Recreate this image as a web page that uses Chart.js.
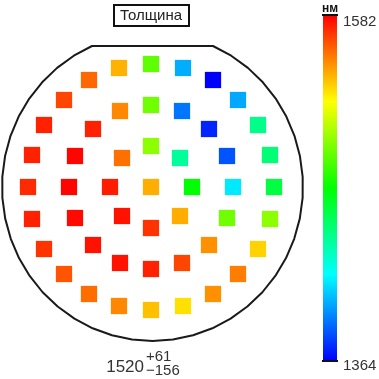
<!DOCTYPE html>
<html><head><meta charset="utf-8">
<style>html,body{margin:0;padding:0;background:#fff}#wrap{width:379px;height:379px;position:relative}canvas{display:block}</style>
<script src="https://cdn.jsdelivr.net/npm/chart.js@4/dist/chart.umd.min.js"></script>
</head><body><div id="wrap"><canvas id="c" width="379" height="379"></canvas></div>
<script>
// ---- data ----
const chartTitle = 'Толщина';
const unitLabel = 'нм';
const colorbarTicks = [1364, 1582];   // min, max of colour scale
const meanValue = 1520;
const plusDev = 61;
const minusDev = 156;

// measurement site positions (wafer coordinates, mm)
const siteX = [0,
  41, 29, 0, -29, -41, -29, 0, 29,
  82, 76, 58, 31, 0, -31, -58, -76, -82, -76, -58, -31, 0, 31, 58, 76,
  123, 119, 107, 87, 62, 32, 0, -32, -62, -87, -107, -119, -123, -119, -107, -87, -62, -32, 0, 32, 62, 87, 107, 119];
const siteY = [0,
  0, 29, 41, 29, 0, -29, -41, -29,
  0, 31, 58, 76, 82, 76, 58, 31, 0, -31, -58, -76, -82, -76, -58, -31,
  0, 32, 62, 87, 107, 119, 123, 119, 107, 87, 62, 32, 0, -32, -62, -87, -107, -119, -123, -119, -107, -87, -62, -32];
// thickness at each site, nm
const thickness = [1545,
  1473, 1440, 1503, 1558, 1576, 1578, 1571, 1545,
  1414, 1382, 1372, 1389, 1497, 1553, 1575, 1581, 1581, 1580, 1578, 1578, 1575, 1567, 1551, 1497,
  1459, 1448, 1444, 1400, 1364, 1401, 1493, 1544, 1560, 1567, 1575, 1575, 1573, 1575, 1571, 1564, 1559, 1553, 1541, 1534, 1551, 1555, 1537, 1503];

// ---- helpers ----
const vMin = colorbarTicks[0], vMax = colorbarTicks[1];
function hueFor(v){ const t = Math.max(0, Math.min(1, (v - vMin) / (vMax - vMin))); return 240 * (1 - t); }
function colorFor(v){ return 'hsl(' + hueFor(v).toFixed(1) + ',100%,50%)'; }

const waferGeom = {cx: 1.5, cy: 0, rx: 150.5, ry: 154, flatY: 141};

const decorPlugin = {
  id: 'decor',
  beforeDatasetsDraw(chart){
    const ctx = chart.ctx, xs = chart.scales.x, ys = chart.scales.y;
    const g = waferGeom;
    const t0 = Math.asin(g.flatY / g.ry);
    const start = Math.PI - t0, end = 2 * Math.PI + t0;
    const n = 40;
    ctx.save();
    ctx.beginPath();
    for (let i = 0; i <= n; i++) {
      const t = start + (end - start) * i / n;
      const px = xs.getPixelForValue(g.cx + g.rx * Math.cos(t));
      const py = ys.getPixelForValue(g.cy + g.ry * Math.sin(t));
      if (i === 0) ctx.moveTo(px, py); else ctx.lineTo(px, py);
    }
    ctx.closePath();
    ctx.lineWidth = 2;
    ctx.strokeStyle = '#1a1a1a';
    ctx.lineJoin = 'round';
    ctx.stroke();
    ctx.restore();
  },
  afterDraw(chart){
    const ctx = chart.ctx;
    ctx.save();
    // title box
    ctx.font = '15px "Liberation Sans", Arial, sans-serif';
    ctx.fillStyle = '#222';
    ctx.textAlign = 'center';
    ctx.textBaseline = 'middle';
    ctx.fillText(chartTitle, 151, 15.5);
    ctx.lineWidth = 2;
    ctx.strokeStyle = '#111';
    ctx.strokeRect(114, 5, 75, 21);

    // colour bar
    const bx = 323, bw = 14, top = 15, bot = 361;
    const grad = ctx.createLinearGradient(0, top, 0, bot);
    for (let i = 0; i <= 8; i++) {
      const f = i / 8;
      grad.addColorStop(f, 'hsl(' + (240 * f) + ',100%,50%)');
    }
    ctx.fillStyle = grad;
    ctx.fillRect(bx, top, bw, bot - top);
    ctx.fillStyle = '#111';
    ctx.fillRect(bx - 1, top - 1, bw + 2, 2);
    ctx.fillRect(bx - 1, bot - 1, bw + 2, 2);

    ctx.font = 'bold 12px "Liberation Sans", Arial, sans-serif';
    ctx.textAlign = 'center';
    ctx.textBaseline = 'alphabetic';
    ctx.fillStyle = '#111';
    ctx.fillText(unitLabel, bx + bw / 2, 12);

    ctx.font = '15px "Liberation Sans", Arial, sans-serif';
    ctx.fillStyle = '#333';
    ctx.textAlign = 'left';
    ctx.textBaseline = 'top';
    ctx.fillText(String(vMax), 343, 14);
    ctx.fillText(String(vMin), 343, 358);

    // statistics
    ctx.textBaseline = 'alphabetic';
    ctx.textAlign = 'right';
    ctx.font = '17px "Liberation Sans", Arial, sans-serif';
    ctx.fillText(String(meanValue), 144, 372);
    ctx.textAlign = 'left';
    ctx.font = '15px "Liberation Sans", Arial, sans-serif';
    ctx.fillText('+' + plusDev, 146, 361);
    ctx.fillText('\u2212' + minusDev, 146, 375);
    ctx.restore();
  }
};

new Chart(document.getElementById('c'), {
  type: 'scatter',
  data: {
    datasets: [{
      data: siteX.map((x, i) => ({x: x, y: siteY[i]})),
      pointStyle: 'rect',
      pointRadius: 11.5,
      pointHoverRadius: 11.5,
      borderWidth: 0,
      backgroundColor: thickness.map(colorFor),
      borderColor: thickness.map(colorFor)
    }]
  },
  options: {
    responsive: false,
    animation: false,
    devicePixelRatio: 1,
    layout: {padding: 0, autoPadding: false},
    plugins: {legend: {display: false}, tooltip: {enabled: false}, title: {display: false}},
    scales: {
      x: {type: 'linear', display: false, min: -151, max: 228},
      y: {type: 'linear', display: false, min: -192, max: 187}
    },
    events: []
  },
  plugins: [decorPlugin]
});
</script></body></html>
